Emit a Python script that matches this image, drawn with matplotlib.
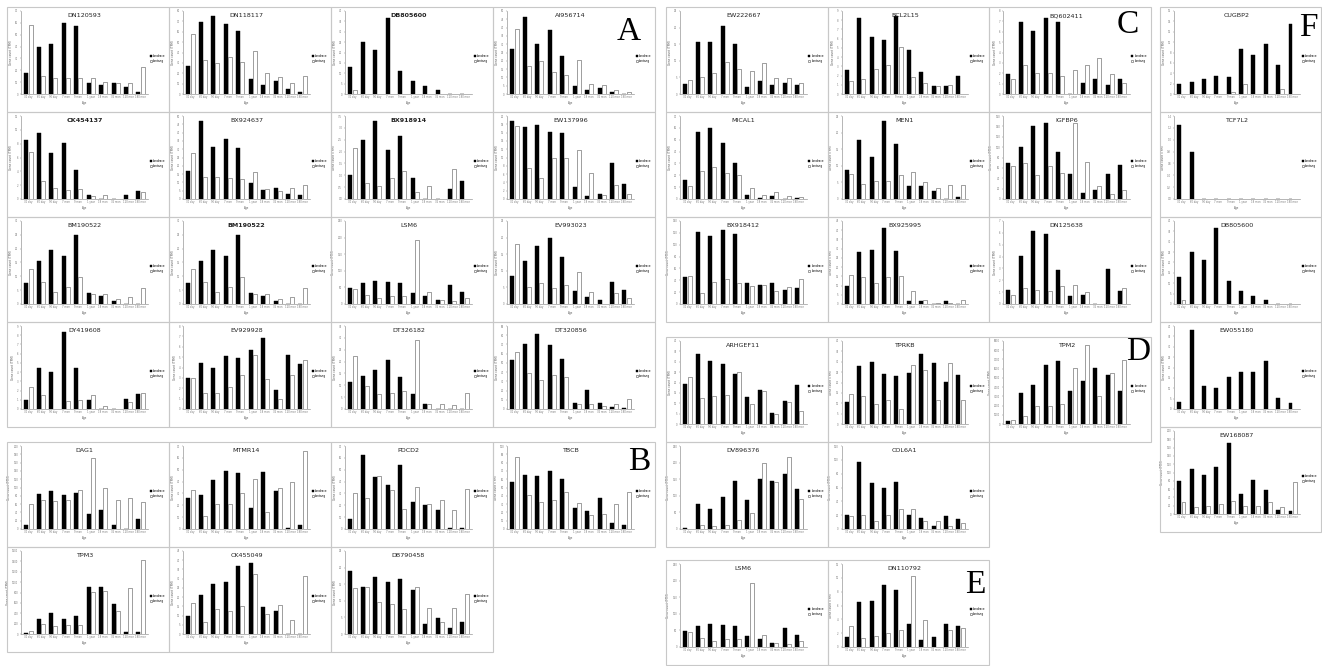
import matplotlib
matplotlib.use("Agg")
import matplotlib.pyplot as plt
import numpy as np
from matplotlib.patches import Rectangle

# ---------------- data ----------------
ages = ["30 day", "60 day", "90 day", "7 mon", "9 mon", "1 year", "18 mon", "36 mon", "120 mon", "180 mon"]
series_names = ["Landrace", "Lantang"]

DN120593_landrace = [18, 40, 42, 60, 57, 9.4, 7.5, 9, 5.8, 1.7]
DN120593_lantang = [58, 15, 13.5, 13.3, 13.8, 13.3, 9.7, 9.4, 9.1, 22.4]
DN118117_landrace = [27, 69, 75, 67, 61, 14, 9, 13, 5, 2]
DN118117_lantang = [58, 33, 30, 36, 31, 41.5, 20.6, 16, 11, 17]
DB805600_landrace = [13, 25, 21.4, 36.4, 11, 6.3, 3.8, 1.7, 0, 0]
DB805600_lantang = [1.7, 0, 0, 0, 0, 0, 0, 0, 0, 0]
AI956714_landrace = [26.9, 46.5, 30.3, 38.4, 23.1, 5, 2.2, 3.8, 1.2, 0]
AI956714_lantang = [39.2, 16.6, 19.6, 13.3, 11.3, 20.6, 6.2, 5.2, 2.4, 1.2]
CK454137_landrace = [8.5, 9.6, 6.6, 8.1, 4.2, 0.6, 0, 0, 0.6, 1.1]
CK454137_lantang = [6.8, 2.6, 1.6, 1.3, 1.4, 0.4, 0.6, 0, 0, 1.0]
BX924637_landrace = [16.9, 46.7, 31.2, 36.1, 31, 9.4, 5.2, 6.4, 3.2, 2.6]
BX924637_lantang = [27.8, 13.5, 13.1, 12.7, 12.1, 16.3, 5.8, 5, 6.6, 8.4]
BX918914_landrace = [1.0, 2.5, 3.27, 2.08, 2.65, 0.89, 0, 0, 0.42, 0.78]
BX918914_lantang = [2.14, 0.69, 0.56, 0.89, 1.19, 0.3, 0.56, 0, 1.28, 0]
EW137996_landrace = [18.9, 17.3, 17.9, 16.2, 16, 2.9, 0.8, 1.1, 8.7, 3.7]
EW137996_lantang = [17.7, 7.4, 5.1, 9.8, 9.8, 11.8, 6.3, 0.9, 3.4, 1.1]
BM190522_landrace = [7.6, 15.7, 19.4, 17.4, 25.1, 3.9, 2.9, 1.1, 0, 0]
BM190522_lantang = [12.6, 7.9, 4.5, 6.3, 9.9, 3.5, 3.6, 1.9, 2.5, 5.9]
LSM6_landrace = [48, 64, 70, 66, 62, 34, 24, 12, 57, 35]
LSM6_lantang = [44, 27, 17, 24, 24, 194, 35, 11, 9, 19]
EV993023_landrace = [8.5, 13, 17.5, 19.8, 14.1, 3.9, 2.1, 1.3, 6.7, 4.2]
EV993023_lantang = [18, 5.2, 6.2, 4.9, 5.8, 9.7, 3.6, 0, 3.2, 1.7]
DY419608_landrace = [0.93, 4.4, 4.0, 8.4, 4.5, 0.93, 0, 0, 1.13, 1.64]
DY419608_lantang = [2.4, 1.5, 0, 0.82, 0.93, 1.5, 0.36, 0, 0.75, 1.7]
EV929928_landrace = [3.0, 4.4, 4.0, 5.1, 4.9, 5.7, 6.8, 1.8, 5.2, 4.3]
EV929928_lantang = [3.0, 1.5, 1.5, 2.1, 3.3, 5.2, 2.9, 1.0, 3.3, 4.7]
DT326182_landrace = [11.5, 13.8, 16.3, 20.6, 13.3, 6.2, 2.3, 0, 0, 0]
DT326182_lantang = [22.5, 9.7, 6.5, 6.7, 7.5, 29.3, 2.3, 2.3, 1.5, 6.8]
DT320856_landrace = [53, 71, 81, 69, 54, 7, 21, 6.4, 1.8, 1.1]
DT320856_lantang = [62, 39, 31, 37, 35, 5.3, 5.3, 3.6, 5.7, 11]

DAG1_landrace = [8.6, 85, 91, 83, 87, 36, 46, 8.6, 0, 23]
DAG1_lantang = [60, 70, 68, 71, 95, 171, 98, 69, 74, 66]
MTMR14_landrace = [26, 29, 41, 49, 47, 18, 48, 32, 0.8, 3]
MTMR14_lantang = [33, 11, 21, 21, 30, 42, 14, 35, 40, 66]
PDCD2_landrace = [8.3, 62.5, 43.5, 37.4, 54, 23, 20.4, 16, 1.1, 0.6]
PDCD2_lantang = [30.5, 25.8, 44.8, 32.6, 16.9, 35.1, 20.7, 24.6, 16, 34]
TBCB_landrace = [56.5, 65.2, 63.6, 69.6, 60.5, 25.7, 21.7, 37.9, 7.1, 5.1]
TBCB_lantang = [86.6, 41.5, 32.4, 34.8, 44.7, 31.2, 17, 17.8, 29.6, 44.3]
TPM3_landrace = [26, 293, 408, 293, 350, 906, 899, 574, 38, 38]
TPM3_lantang = [58, 186, 160, 179, 173, 803, 829, 453, 886, 1434]
CK455049_landrace = [9.9, 21.2, 26.9, 28.1, 36.6, 38.4, 14.5, 12.7, 0, 0]
CK455049_lantang = [16.9, 6.3, 13.3, 12.7, 15.3, 32.8, 10.8, 15.8, 7.7, 31.5]
DB790458_landrace = [19, 14.3, 17.1, 15.8, 16.7, 13.2, 3, 4.9, 1.9, 3.5]
DB790458_lantang = [13.8, 14.2, 9.6, 9.1, 7.6, 14.3, 7.7, 3.5, 7.7, 12.1]

EW222667_landrace = [3, 15.7, 15.7, 20.5, 15.1, 2.1, 3.8, 2.8, 3.4, 2.8]
EW222667_lantang = [4.3, 5.1, 6.2, 9.5, 7.5, 6.9, 9.4, 4.8, 4.8, 3.3]
BCL2L15_landrace = [2.6, 8.2, 6.2, 5.9, 8.5, 4.8, 2.4, 0.9, 0.86, 1.9]
BCL2L15_lantang = [1.4, 1.6, 2.7, 3.1, 5.1, 1.8, 1.2, 0.9, 0.96, 0]
BQ602411_landrace = [1.9, 6.9, 6.1, 7.3, 6.9, 0, 1.1, 1.4, 0.9, 1.4]
BQ602411_lantang = [1.4, 2.8, 2.0, 2.0, 1.7, 2.3, 2.8, 3.5, 1.9, 1.1]
MICAL1_landrace = [16.1, 56.1, 60, 47.5, 30.6, 3.6, 1.1, 2.2, 0, 0.8]
MICAL1_lantang = [10.6, 23.3, 27, 21.9, 20.3, 8.9, 3.1, 5.5, 2.5, 1.7]
MEN1_landrace = [8.7, 17.7, 12.6, 23.4, 16.7, 4, 3.8, 2.4, 0, 0.6]
MEN1_lantang = [7.6, 4.6, 5.5, 5.5, 7.1, 8.1, 5, 3.3, 4.2, 4.2]
IGFBP6_landrace = [69, 100, 141, 146, 91, 49, 11, 18, 49, 66]
IGFBP6_lantang = [64, 70, 46, 64, 51, 147, 71, 25, 10, 17]
BX918412_landrace = [45.5, 121, 115, 124, 118, 35, 31.6, 35, 24, 26.2]
BX918412_lantang = [46.6, 18.9, 37.2, 42.3, 35, 30, 31.6, 22.3, 28.8, 41.7]
BX925995_landrace = [9.6, 28, 29.5, 41.4, 28.9, 1.8, 1.4, 0.2, 1.4, 0]
BX925995_lantang = [15.9, 14.8, 11.3, 14.4, 15, 7, 2.3, 0.4, 0.7, 2]
DN125638_landrace = [1.17, 4.05, 6.17, 5.94, 2.86, 0.64, 0.72, 0, 2.92, 1.11]
DN125638_lantang = [0.75, 1.36, 1.2, 1.09, 1.55, 1.64, 1.0, 0, 0, 1.39]

CUGBP2_landrace = [2.0, 2.3, 2.8, 3.5, 3.3, 8.7, 7.6, 9.7, 5.6, 13.5]
CUGBP2_lantang = [0, 0, 0, 0, 0.45, 1.9, 0, 0, 0.94, 0]
TCF7L2_landrace = [1.24, 0.79, 0, 0, 0, 0, 0, 0, 0, 0]
TCF7L2_lantang = [0, 0, 0, 0, 0, 0, 0, 0, 0, 0]
EW055180_landrace = [3.5, 38, 11, 9.9, 15.3, 18, 18, 23.2, 5.4, 2.8]
EW055180_lantang = [0, 0, 0, 0, 0, 0, 0, 0, 0, 0]
EW168087_landrace = [79, 108, 94, 114, 172, 49, 83, 58, 10, 8]
EW168087_lantang = [30, 18, 20, 24, 32, 20, 20, 30, 18, 76]

ARHGEF11_landrace = [19.4, 33.7, 30.2, 28.9, 24, 13.1, 16.4, 5.5, 10.9, 18.6]
ARHGEF11_lantang = [22.6, 12.5, 13.6, 13.9, 25, 9.8, 16, 4.9, 10.4, 6.3]
TPRKB_landrace = [10.4, 27.8, 29.7, 24, 23.2, 24.7, 33.5, 29.6, 20.1, 23.4]
TPRKB_lantang = [14.6, 13.6, 9.8, 11.8, 7, 28.6, 25.8, 11.6, 29.4, 11.4]
TPM2_landrace = [320, 3410, 4190, 6400, 6830, 3560, 4700, 6120, 5300, 3590]
TPM2_lantang = [460, 890, 1990, 1990, 2200, 6120, 8610, 3060, 5550, 6940]
DV896376_landrace = [3, 76.5, 61.5, 97, 145, 87, 150, 146, 166, 121]
DV896376_lantang = [1, 12, 9, 13, 26, 49.5, 199.5, 142, 216, 90]
COL6A1_landrace = [20, 96.7, 65.8, 60, 68.5, 20, 15.7, 3.8, 19, 14.3]
COL6A1_lantang = [18.1, 20.5, 11.9, 20, 29, 29.5, 11.9, 11.9, 3.8, 9]
DN110792_landrace = [1.4, 6.5, 6.7, 9.0, 8.3, 3.3, 0.95, 1.4, 3.3, 3.1]
DN110792_lantang = [3.0, 1.3, 1.6, 2.0, 2.5, 10.2, 3.9, 0, 2.5, 2.7]

# panel list: (title, landrace, lantang, ymax, ystep, bold)
group_A = [
    ("DN120593", DN120593_landrace, DN120593_lantang, 70, 10, False),
    ("DN118117", DN118117_landrace, DN118117_lantang, 80, 10, False),
    ("DB805600", DB805600_landrace, DB805600_lantang, 40, 5, True),
    ("AI956714", AI956714_landrace, AI956714_lantang, 50, 5, False),
    ("CK454137", CK454137_landrace, CK454137_lantang, 12, 2, True),
    ("BX924637", BX924637_landrace, BX924637_lantang, 50, 5, False),
    ("BX918914", BX918914_landrace, BX918914_lantang, 3.5, 0.5, True),
    ("EW137996", EW137996_landrace, EW137996_lantang, 20, 2, False),
    ("BM190522", BM190522_landrace, BM190522_lantang, 30, 5, False),
    ("BM190522", BM190522_landrace, BM190522_lantang, 30, 5, True),
    ("LSM6", LSM6_landrace, LSM6_lantang, 250, 50, False),
    ("EV993023", EV993023_landrace, EV993023_lantang, 25, 5, False),
    ("DY419608", DY419608_landrace, DY419608_lantang, 9, 1, False),
    ("EV929928", EV929928_landrace, EV929928_lantang, 8, 1, False),
    ("DT326182", DT326182_landrace, DT326182_lantang, 35, 5, False),
    ("DT320856", DT320856_landrace, DT320856_lantang, 90, 10, False),
]
group_B = [
    ("DAG1", DAG1_landrace, DAG1_lantang, 200, 20, False),
    ("MTMR14", MTMR14_landrace, MTMR14_lantang, 70, 10, False),
    ("PDCD2", PDCD2_landrace, PDCD2_lantang, 70, 10, False),
    ("TBCB", TBCB_landrace, TBCB_lantang, 100, 10, False),
    ("TPM3", TPM3_landrace, TPM3_lantang, 1600, 200, False),
    ("CK455049", CK455049_landrace, CK455049_lantang, 45, 5, False),
    ("DB790458", DB790458_landrace, DB790458_lantang, 25, 5, False),
]
group_C = [
    ("EW222667", EW222667_landrace, EW222667_lantang, 25, 5, False),
    ("BCL2L15", BCL2L15_landrace, BCL2L15_lantang, 9, 1, False),
    ("BQ602411", BQ602411_landrace, BQ602411_lantang, 8, 1, False),
    ("MICAL1", MICAL1_landrace, MICAL1_lantang, 70, 10, False),
    ("MEN1", MEN1_landrace, MEN1_lantang, 25, 5, False),
    ("IGFBP6", IGFBP6_landrace, IGFBP6_lantang, 160, 20, False),
    ("BX918412", BX918412_landrace, BX918412_lantang, 140, 20, False),
    ("BX925995", BX925995_landrace, BX925995_lantang, 45, 5, False),
    ("DN125638", DN125638_landrace, DN125638_lantang, 7, 1, False),
]
group_F = [
    ("CUGBP2", CUGBP2_landrace, CUGBP2_lantang, 16, 2, False),
    ("TCF7L2", TCF7L2_landrace, TCF7L2_lantang, 1.4, 0.2, False),
    ("DB805600", DB805600_landrace, DB805600_lantang, 40, 5, False),
    ("EW055180", EW055180_landrace, EW055180_lantang, 40, 5, False),
    ("EW168087", EW168087_landrace, EW168087_lantang, 200, 20, False),
]
group_D = [
    ("ARHGEF11", ARHGEF11_landrace, ARHGEF11_lantang, 40, 5, False),
    ("TPRKB", TPRKB_landrace, TPRKB_lantang, 40, 5, False),
    ("TPM2", TPM2_landrace, TPM2_lantang, 9000, 1000, False),
    ("DV896376", DV896376_landrace, DV896376_lantang, 250, 50, False),
    ("COL6A1", COL6A1_landrace, COL6A1_lantang, 120, 20, False),
]
group_E = [
    ("LSM6", LSM6_landrace, LSM6_lantang, 250, 50, False),
    ("DN110792", DN110792_landrace, DN110792_lantang, 12, 2, False),
]

# ---------------- drawing ----------------
W, H = 1322, 666
fig = plt.figure(figsize=(W / 100, H / 100), dpi=100)
fig.patch.set_facecolor("white")


def panel(x0, y0, w, h, spec):
    title, black, white, ymax, ystep, bold = spec
    fig.add_artist(Rectangle((x0 / W, 1 - (y0 + h) / H), w / W, h / H,
                             transform=fig.transFigure, fill=False,
                             edgecolor="#c8c8c8", lw=0.8))
    l = x0 + 14
    r = x0 + w - 21
    t = y0 + 4
    b = y0 + 87
    ax = fig.add_axes([l / W, 1 - b / H, (r - l) / W, (b - t) / H])
    x = np.arange(len(ages))
    bw = 0.32
    ax.bar(x - 0.17, black, bw, color="black", edgecolor="black", lw=0.3,
           label=series_names[0])
    ax.bar(x + 0.17, white, bw, color="white", edgecolor="#555555", lw=0.4,
           label=series_names[1])
    ax.set_xlim(-0.6, len(ages) - 0.4)
    ax.set_ylim(0, ymax)
    ticks = np.arange(0, ymax + ystep / 2, ystep)
    ax.set_yticks(ticks)
    if ystep < 1:
        ax.set_yticklabels([f"{v:.1f}" for v in ticks])
    else:
        ax.set_yticklabels([f"{v:g}" for v in ticks])
    ax.set_xticks(x)
    ax.set_xticklabels(ages)
    for s in ["top", "right"]:
        ax.spines[s].set_visible(False)
    for s in ["left", "bottom"]:
        ax.spines[s].set_color("#999999")
        ax.spines[s].set_linewidth(0.5)
    ax.tick_params(axis="both", labelsize=1.8, colors="#777777", length=1,
                   width=0.3, pad=1)
    ax.tick_params(axis="x", length=0)
    ax.set_xlabel("Age", fontsize=2, color="#555555", labelpad=1.5)
    ax.set_ylabel("Gene count (TPM)", fontsize=2, color="#555555", labelpad=1.5)
    ax.text(0.5, 0.97, title, transform=ax.transAxes, ha="center", va="top",
            fontsize=4.6, color="#222222",
            fontweight="bold" if bold else "normal")
    ax.legend(loc="center left", bbox_to_anchor=(1.0, 0.43), fontsize=2,
              frameon=False, handlelength=0.7, handleheight=0.7,
              borderpad=0.2, labelspacing=0.5, handletextpad=0.4)
    return ax


# group A: 4 x 4
colA = [7, 169, 331, 493]
rowA = [7, 112, 217, 322]
for i, spec in enumerate(group_A):
    panel(colA[i % 4], rowA[i // 4], 162, 105, spec)
# group B: 4 + 3
rowB = [442, 547]
for i, spec in enumerate(group_B):
    panel(colA[i % 4], rowB[i // 4], 162, 105, spec)
# group C: 3 x 3
colC = [666, 827.5, 989]
rowC = [7, 112, 217]
for i, spec in enumerate(group_C):
    panel(colC[i % 3], rowC[i // 3], 161.5, 105, spec)
# group D: 3 + 2
rowD = [337, 442]
for i, spec in enumerate(group_D):
    panel(colC[i % 3], rowD[i // 3], 161.5, 105, spec)
# group E: 2
for i, spec in enumerate(group_E):
    panel(colC[i], 560, 161.5, 105, spec)
# group F: column
rowF = [7, 112, 217, 322, 427]
for i, spec in enumerate(group_F):
    panel(1160, rowF[i], 161, 105, spec)

letters = [("A", 629, 32), ("B", 639, 462), ("C", 1128, 25),
           ("D", 1138, 352), ("E", 975, 585), ("F", 1308, 28)]
for s, lx, ly in letters:
    fig.text(lx / W, 1 - ly / H, s, ha="center", va="center",
             fontsize=24, family="Liberation Serif", color="black")

fig.savefig("out.png", dpi=100, facecolor="white")
